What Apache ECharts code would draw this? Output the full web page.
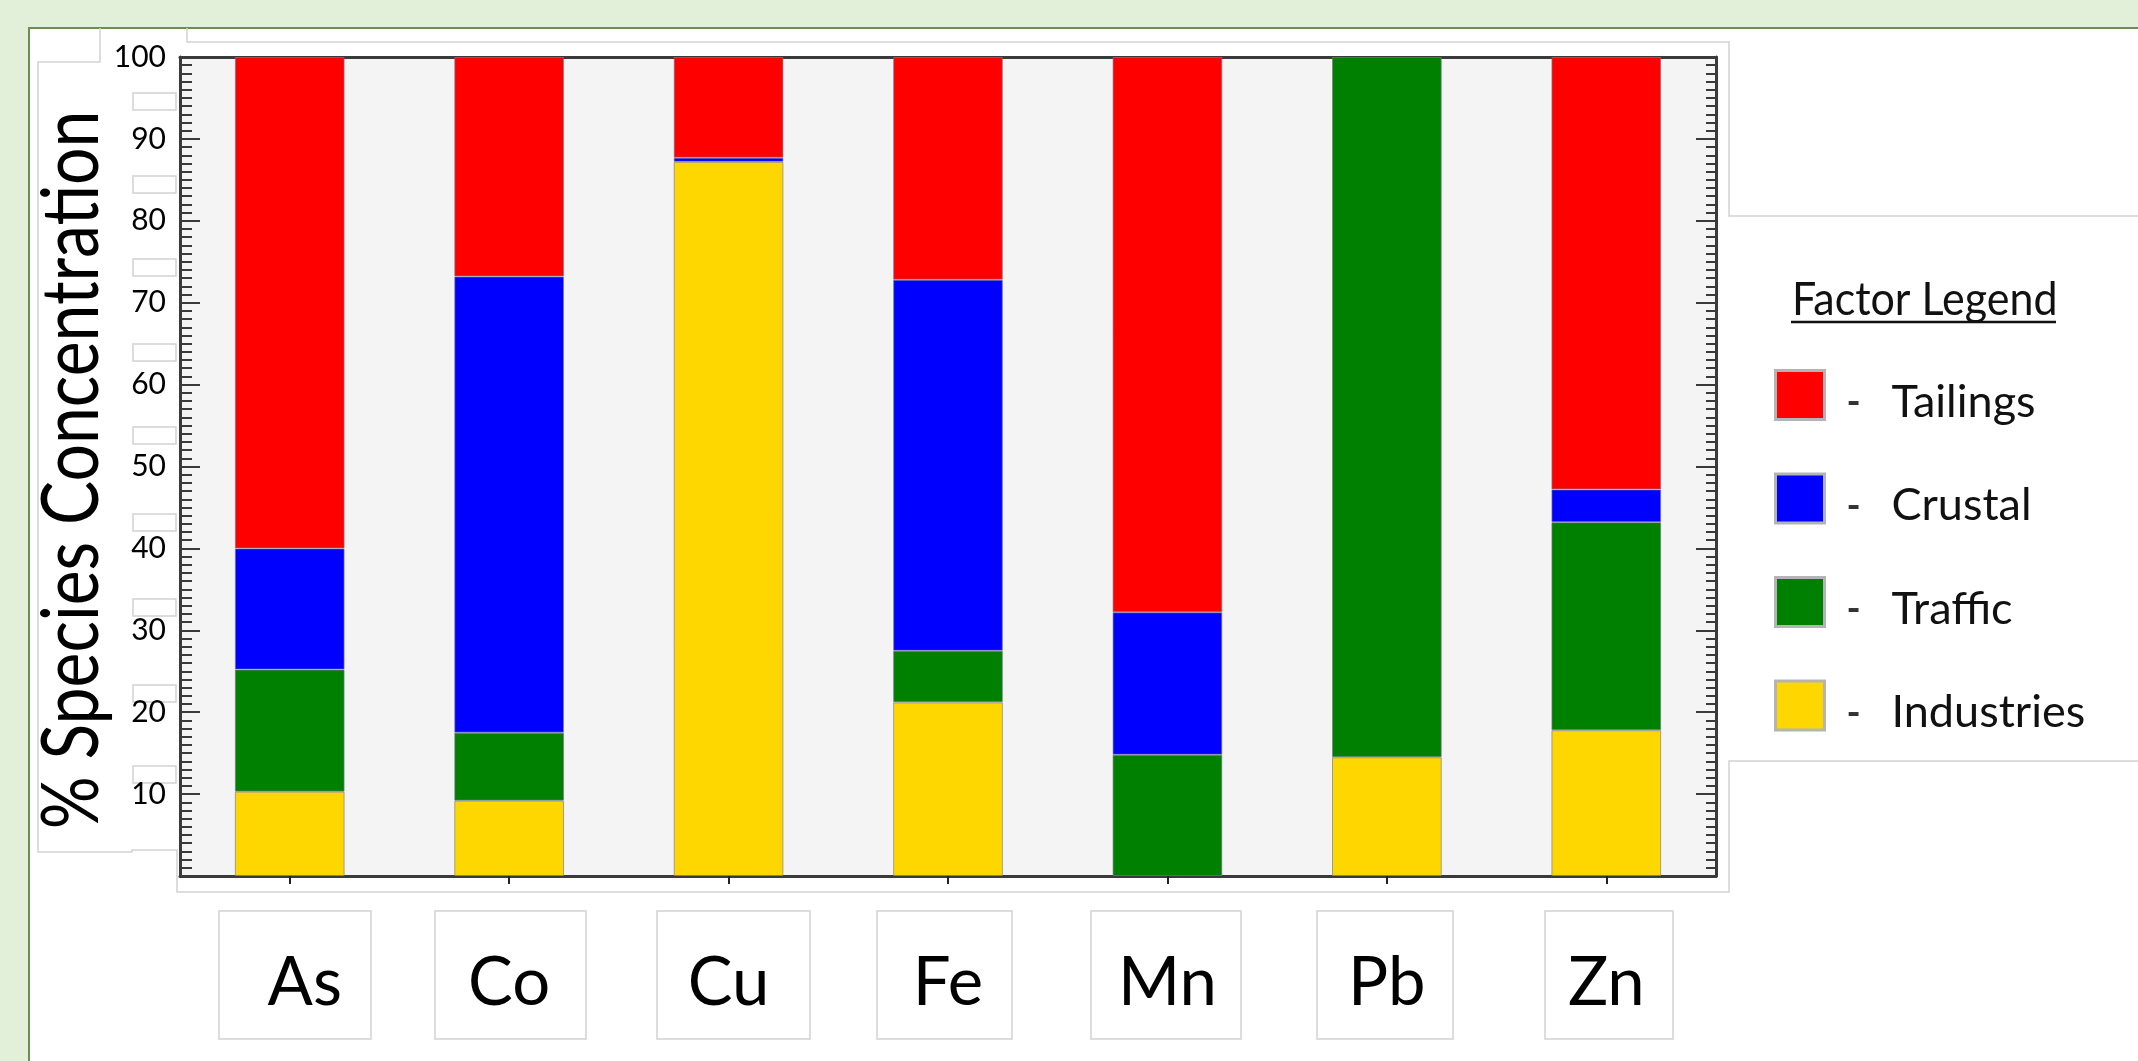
<!DOCTYPE html>
<html>
<head>
<meta charset="utf-8">
<script src="https://cdn.jsdelivr.net/npm/echarts@6/dist/echarts.min.js"></script>
<style>
  html, body { margin:0; padding:0; width:2138px; height:1061px; overflow:hidden; background:#e2efd9; }
  #panel { position:absolute; left:28px; top:27px; width:2110px; height:1034px; background:#ffffff;
           border-left:2px solid #6b8f52; border-top:2px solid #6b8f52; box-sizing:border-box; }
  #chart { position:absolute; left:0; top:0; width:2138px; height:1061px; }
</style>
</head>
<body>
<div id="panel"></div>
<div id="chart"></div>
<script>
const categories = ['As', 'Co', 'Cu', 'Fe', 'Mn', 'Pb', 'Zn'];
const industries = [10.3, 9.2, 87.2, 21.2, 0, 14.5, 17.8];
const traffic    = [14.9, 8.3, 0, 6.3, 14.8, 85.5, 25.4];
const crustal    = [14.8, 55.7, 0.5, 45.3, 17.4, 0, 4.0];
const tailings   = [60.0, 26.8, 12.3, 27.2, 67.8, 0, 52.8];
const legendOrder = ['Tailings', 'Crustal', 'Traffic', 'Industries'];
const yAxisTitle = '% Species Concentration';
const legendTitle = 'Factor Legend';

const FONT = 'Lato';
const chart = echarts.init(document.getElementById('chart'), null, { renderer: 'canvas' });

function seriesOf(name, values, color) {
  return {
    name: name, type: 'bar', stack: 'total', barWidth: '50%',
    data: values.map(v => (v === 0 ? '-' : v)),
    itemStyle: { color: color, borderColor: 'rgba(120,120,140,0.65)', borderWidth: 1 },
    emphasis: { disabled: true }
  };
}

const faint = { fill: 'none', stroke: '#d2d2d2', lineWidth: 1.5 };
const maskTops = [93, 176, 259, 344, 427, 514, 599, 685, 766];
const labelBoxes = [[219, 371], [435, 586], [657, 810], [877, 1012], [1091, 1241], [1317, 1453], [1545, 1673]];
const graphics = [];
graphics.push({ type: 'polyline', silent: true, shape: { points: [[100, 28], [100, 62], [38, 62], [38, 852], [132, 852], [132, 850], [177, 850], [177, 892], [1729, 892], [1729, 761], [2138, 761]] }, style: faint });
graphics.push({ type: 'polyline', silent: true, shape: { points: [[187, 28], [187, 42], [1729, 42], [1729, 216], [2138, 216]] }, style: faint });
maskTops.forEach(t => graphics.push({ type: 'rect', silent: true, shape: { x: 133, y: t, width: 43, height: 17 }, style: faint }));
labelBoxes.forEach(b => graphics.push({ type: 'rect', silent: true, shape: { x: b[0], y: 911, width: b[1] - b[0], height: 128 }, style: faint }));
graphics.push({ type: 'text', silent: true, x: 72, y: 470, rotation: Math.PI / 2, scaleY: 1.2,
  style: { text: yAxisTitle, font: '66px ' + FONT, fill: '#000', align: 'center', verticalAlign: 'middle' } });
graphics.push({ type: 'text', silent: true, x: 1792, y: 300, scaleY: 1.1,
  style: { text: legendTitle, font: '43px ' + FONT, fill: '#111', align: 'left', verticalAlign: 'middle' } });
graphics.push({ type: 'line', silent: true, shape: { x1: 1791, y1: 322, x2: 2056, y2: 322 }, style: { stroke: '#111', lineWidth: 2.5 } });

const axisColor = '#3a3a3a';
const option = {
  animation: false,
  backgroundColor: 'transparent',
  textStyle: { fontFamily: FONT },
  grid: { left: 180, right: 422, top: 57, bottom: 185, show: true, backgroundColor: '#f4f4f4', borderWidth: 0, containLabel: false },
  legend: {
    orient: 'vertical', left: 1769, top: 364, itemWidth: 49, itemHeight: 49, itemGap: 48,
    data: legendOrder, icon: 'rect', selectedMode: false,
    itemStyle: { borderColor: '#b4b4b4', borderWidth: 3 },
    formatter: n => '{d|-}{s| }{t|' + n + '}',
    textStyle: {
      rich: {
        d: { fontSize: 38, fontWeight: 'bold', color: '#333', width: 48, align: 'center', fontFamily: FONT, padding: [16, 0, 0, 0] },
        s: { fontSize: 20, width: 14, padding: [16, 0, 0, 0] },
        t: { fontSize: 45, color: '#111', fontFamily: FONT, padding: [14, 0, 0, 0] }
      }
    }
  },
  xAxis: [
    { type: 'category', data: categories, position: 'bottom',
      axisLine: { show: true, lineStyle: { color: axisColor, width: 3 } },
      axisTick: { show: true, alignWithLabel: true, length: 8, lineStyle: { color: '#222', width: 2 } },
      axisLabel: { fontSize: 67, fontFamily: FONT, color: '#000', margin: 107, verticalAlign: 'middle',
        formatter: (v, i) => (i === 0 ? '{a|' + v + '}' : v),
        rich: { a: { fontSize: 67, fontFamily: FONT, color: '#000', padding: [0, 0, 0, 30] } } },
      splitLine: { show: false } },
    { type: 'category', data: categories, position: 'bottom',
      axisLine: { show: false },
      axisTick: { show: true, inside: true, alignWithLabel: true, length: 8, lineStyle: { color: '#222', width: 2 } },
      axisLabel: { show: false }, splitLine: { show: false } },
    { type: 'category', data: categories, position: 'top',
      axisLine: { show: true, lineStyle: { color: axisColor, width: 3 } },
      axisTick: { show: false }, axisLabel: { show: false }, splitLine: { show: false } }
  ],
  yAxis: [
    { type: 'value', min: 0, max: 100, interval: 10, position: 'left',
      axisLine: { show: true, lineStyle: { color: axisColor, width: 3 } },
      axisTick: { show: true, inside: true, length: 20, lineStyle: { color: axisColor, width: 2 } },
      minorTick: { show: true, splitNumber: 10, length: 12, lineStyle: { color: axisColor, width: 2 } },
      axisLabel: { fontSize: 30, fontFamily: FONT, color: '#000', margin: 14, formatter: v => (v === 0 ? '' : String(v)) },
      splitLine: { show: false }, minorSplitLine: { show: false } },
    { type: 'value', min: 0, max: 100, interval: 10, position: 'right',
      axisLine: { show: true, lineStyle: { color: axisColor, width: 3 } },
      axisTick: { show: true, inside: true, length: 20, lineStyle: { color: axisColor, width: 2 } },
      minorTick: { show: true, splitNumber: 10, length: 10, lineStyle: { color: axisColor, width: 2 } },
      axisLabel: { show: false }, splitLine: { show: false }, minorSplitLine: { show: false } }
  ],
  series: [
    seriesOf('Industries', industries, '#ffd700'),
    seriesOf('Traffic', traffic, '#008000'),
    seriesOf('Crustal', crustal, '#0000ff'),
    seriesOf('Tailings', tailings, '#ff0000')
  ],
  graphic: { elements: graphics }
};
chart.setOption(option);
</script>
</body>
</html>
